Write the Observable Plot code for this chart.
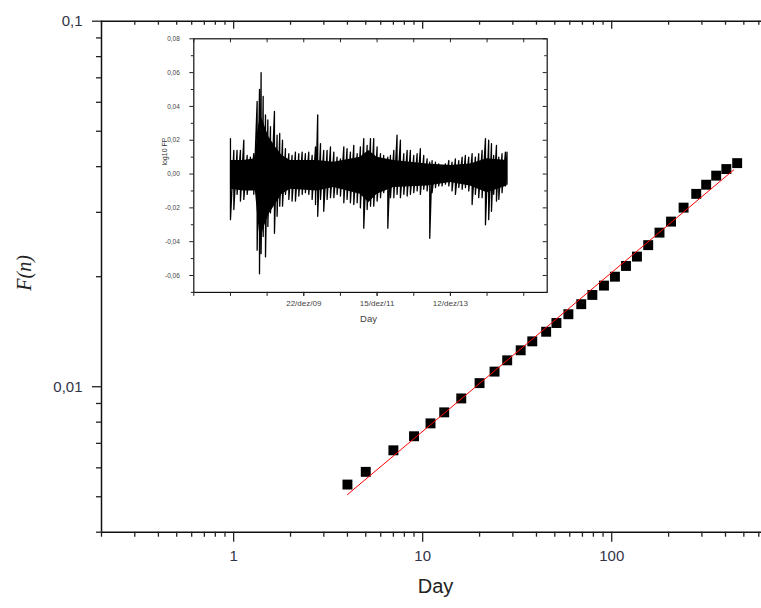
<!DOCTYPE html>
<html>
<head>
<meta charset="utf-8">
<script src="https://cdn.jsdelivr.net/npm/d3@7"></script>
<script src="https://cdn.jsdelivr.net/npm/@observablehq/plot@0.6"></script>
<style>
  html, body { margin: 0; padding: 0; background: #fff; }
  #wrap { position: relative; width: 761px; height: 608px; }
  #wrap svg { position: absolute; left: 0; top: 0; }
</style>
</head>
<body>
<div id="wrap"></div>
<script>
// ---- main panel: fluctuation function F(n) vs window size (days) ----
const fnDays = [4, 5, 7, 9, 11, 13, 16, 20, 24, 28, 33, 38, 45, 51, 59, 69, 79, 91, 104, 119, 136, 156, 179, 206, 240, 280, 316, 357, 404, 461];
const fnValues = [0.0054, 0.00585, 0.0067, 0.00732, 0.00794, 0.00851, 0.00929, 0.01023, 0.0110, 0.01181, 0.01258, 0.01331, 0.01414, 0.01494, 0.01579, 0.01682, 0.01783, 0.01891, 0.0200, 0.0214, 0.0227, 0.0244, 0.0264, 0.0283, 0.0309, 0.0337, 0.0357, 0.0378, 0.0394, 0.0409];
const fitDays = [4, 442];
const fitValues = [0.00507, 0.0392];

const xMajorTicks = [1, 10, 100];
const xMajorLabels = ["1", "10", "100"];
const xMinorTicks = [0.2, 0.3, 0.4, 0.5, 0.6, 0.7, 0.8, 0.9, 2, 3, 4, 5, 6, 7, 8, 9, 20, 30, 40, 50, 60, 70, 80, 90, 200, 300, 400, 500, 600];
const yMajorTicks = [0.01, 0.1];
const yMajorLabels = ["0,01", "0,1"];
const yMinorTicks = [0.004, 0.005, 0.006, 0.007, 0.008, 0.009, 0.02, 0.03, 0.04, 0.05, 0.06, 0.07, 0.08, 0.09];

// ---- inset: daily log10 FP returns (spike envelope read per ~3px column) ----
const insetDay = [250, 273, 295, 318, 341, 364, 386, 409, 432, 448, 459, 473, 489, 505, 523, 550, 568, 586, 605, 625, 648, 670, 693, 716, 739, 761, 784, 807, 830, 845, 864, 886, 909, 932, 955, 977, 1000, 1023, 1045, 1068, 1091, 1114, 1136, 1159, 1182, 1205, 1227, 1250, 1273, 1295, 1323, 1341, 1364, 1386, 1409, 1432, 1455, 1477, 1500, 1523, 1545, 1568, 1591, 1609, 1625, 1648, 1670, 1693, 1716, 1739, 1761, 1784, 1807, 1830, 1852, 1875, 1898, 1920, 1943, 1966, 1989, 2011, 2030, 2045, 2064, 2080, 2102, 2125, 2136];
const insetHigh = [0.021, 0.014, 0.014, 0.014, 0.020, 0.011, 0.010, 0.012, 0.043, 0.050, 0.060, 0.046, 0.035, 0.032, 0.028, 0.037, 0.023, 0.024, 0.020, 0.015, 0.012, 0.011, 0.013, 0.012, 0.013, 0.012, 0.013, 0.011, 0.016, 0.035, 0.018, 0.014, 0.014, 0.016, 0.013, 0.010, 0.009, 0.016, 0.015, 0.013, 0.017, 0.012, 0.016, 0.021, 0.017, 0.021, 0.021, 0.016, 0.012, 0.011, 0.010, 0.011, 0.014, 0.023, 0.020, 0.012, 0.014, 0.014, 0.011, 0.012, 0.015, 0.011, 0.009, 0.007, 0.008, 0.007, 0.006, 0.005, 0.006, 0.008, 0.007, 0.009, 0.008, 0.010, 0.011, 0.010, 0.012, 0.010, 0.012, 0.014, 0.021, 0.020, 0.018, 0.011, 0.017, 0.010, 0.012, 0.013, 0.013];
const insetLow = [-0.027, -0.021, -0.012, -0.016, -0.015, -0.012, -0.009, -0.012, -0.045, -0.059, -0.047, -0.037, -0.049, -0.031, -0.023, -0.035, -0.025, -0.019, -0.019, -0.012, -0.015, -0.016, -0.016, -0.013, -0.012, -0.011, -0.012, -0.015, -0.018, -0.025, -0.015, -0.022, -0.015, -0.014, -0.014, -0.012, -0.013, -0.017, -0.015, -0.017, -0.018, -0.017, -0.020, -0.032, -0.021, -0.019, -0.019, -0.016, -0.014, -0.011, -0.032, -0.014, -0.014, -0.012, -0.014, -0.012, -0.013, -0.012, -0.011, -0.010, -0.012, -0.009, -0.010, -0.038, -0.011, -0.008, -0.007, -0.007, -0.006, -0.007, -0.010, -0.012, -0.008, -0.009, -0.008, -0.010, -0.018, -0.012, -0.014, -0.014, -0.030, -0.027, -0.022, -0.012, -0.016, -0.015, -0.011, -0.007, -0.006];
// dense (solid black) core of the return series
const coreDay = [250, 341, 420, 436, 455, 477, 511, 557, 602, 659, 841, 955, 1136, 1193, 1250, 1364, 1591, 1750, 1886, 2000, 2136];
const coreHigh = [0.008, 0.008, 0.009, 0.025, 0.035, 0.030, 0.022, 0.016, 0.011, 0.008, 0.008, 0.007, 0.010, 0.014, 0.010, 0.008, 0.006, 0.005, 0.006, 0.009, 0.008];
const coreLow = [-0.009, -0.010, -0.010, -0.025, -0.040, -0.032, -0.024, -0.018, -0.012, -0.009, -0.010, -0.008, -0.012, -0.017, -0.012, -0.008, -0.007, -0.005, -0.007, -0.011, -0.007];

const insetXTicks = [0, 250, 500, 750, 1000, 1250, 1500, 1750, 2000, 2250];
const insetDateTicks = [750, 1250, 1750];
const insetDateLabels = ["22/dez/09", "15/dez/11", "12/dez/13"];
const insetYMajor = [-0.06, -0.04, -0.02, 0, 0.02, 0.04, 0.06, 0.08];
const insetYLabels = ["-0,06", "-0,04", "-0,02", "0,00", "0,02", "0,04", "0,06", "0,08"];
const insetYMinor = [-0.07, -0.05, -0.03, -0.01, 0.01, 0.03, 0.05, 0.07];

// ---- build tables ----
const points = fnDays.map((d, i) => ({n: d, F: fnValues[i]}));
const fit = fitDays.map((d, i) => ({n: d, F: fitValues[i]}));
const zig = [];
insetDay.forEach((t, i) => { zig.push({t, v: insetHigh[i]}); zig.push({t, v: insetLow[i]}); });
const core = coreDay.map((t, i) => ({t, hi: coreHigh[i], lo: coreLow[i]}));

const font = "'Liberation Sans', Arial, sans-serif";
const blank = () => "";

const main = Plot.plot({
  width: 761, height: 608,
  marginLeft: 101, marginRight: 0, marginTop: 20.7, marginBottom: 76.3,
  x: {type: "log", domain: [0.2, 620]},
  y: {type: "log", domain: [0.004, 0.1]},
  style: {fontFamily: font, background: "white", color: "#222", overflow: "visible"},
  marks: [
    Plot.ruleX([0.2], {stroke: "#111", strokeWidth: 1.5}),
    Plot.ruleY([0.004], {stroke: "#111", strokeWidth: 1.5}),
    Plot.ruleY([0.1], {stroke: "#111", strokeWidth: 1.5}),
    Plot.axisY({ticks: yMajorTicks, tickSize: 9, tickPadding: 10, strokeWidth: 1.3, fontSize: 15, fill: "#333348",
      tickFormat: d => yMajorLabels[yMajorTicks.indexOf(d)], label: null}),
    Plot.axisY({ticks: yMinorTicks, tickSize: 5, strokeWidth: 1.3, tickFormat: blank, label: null}),
    Plot.axisX({ticks: xMajorTicks, tickSize: 10, tickPadding: 8, strokeWidth: 1.3, fontSize: 15, fill: "#333348",
      tickFormat: d => xMajorLabels[xMajorTicks.indexOf(d)], label: null}),
    Plot.axisX({ticks: xMinorTicks, tickSize: 5, strokeWidth: 1.3, tickFormat: blank, label: null}),
    Plot.axisX({anchor: "bottom", frameAnchor: "top", ticks: xMajorTicks, tickSize: 8, strokeWidth: 1.3, tickFormat: blank, label: null}),
    Plot.axisX({anchor: "bottom", frameAnchor: "top", ticks: xMinorTicks, tickSize: 4, strokeWidth: 1.3, tickFormat: blank, label: null}),
    Plot.dot(points, {x: "n", y: "F", symbol: "square", r: 5.6, fill: "black", stroke: "none"}),
    Plot.line(fit, {x: "n", y: "F", stroke: "#ff0000", strokeWidth: 1}),
    Plot.text(["F(n)"], {frameAnchor: "left", dx: -77, dy: 14, rotate: -90, fontSize: 20, fontStyle: "italic", fontFamily: "'Liberation Serif', 'DejaVu Serif', serif", fill: "#222"}),
    Plot.text(["Day"], {frameAnchor: "bottom", dx: 4, dy: 61, fontSize: 20, fill: "#222"})
  ]
});

const inset = Plot.plot({
  width: 761, height: 608,
  marginLeft: 193.3, marginRight: 214.3, marginTop: 38.3, marginBottom: 316.1,
  x: {domain: [0, 2410]},
  y: {domain: [-0.07, 0.08]},
  style: {fontFamily: font, background: "transparent", color: "#222", overflow: "visible"},
  marks: [
    Plot.frame({stroke: "#111", strokeWidth: 1.2}),
    Plot.areaY(core, {x: "t", y1: "lo", y2: "hi", fill: "black"}),
    Plot.line(zig, {x: "t", y: "v", stroke: "black", strokeWidth: 1.3}),
    Plot.axisY({ticks: insetYMajor, tickSize: 4, tickPadding: 10, fontSize: 6.5, fill: "#444",
      tickFormat: d => insetYLabels[insetYMajor.indexOf(d)], label: null}),
    Plot.axisY({ticks: insetYMinor, tickSize: 2.5, tickFormat: blank, label: null}),
    Plot.axisY({anchor: "left", frameAnchor: "right", ticks: insetYMajor, tickSize: 4, tickFormat: blank, label: null}),
    Plot.axisY({anchor: "left", frameAnchor: "right", ticks: insetYMinor, tickSize: 2.5, tickFormat: blank, label: null}),
    Plot.axisX({ticks: insetXTicks, tickSize: 4, tickFormat: blank, label: null}),
    Plot.axisX({ticks: insetDateTicks, tickSize: 4, tickPadding: 4, fontSize: 8, fill: "#444",
      tickFormat: d => insetDateLabels[insetDateTicks.indexOf(d)], label: null}),
    Plot.axisX({anchor: "bottom", frameAnchor: "top", ticks: insetXTicks, tickSize: 4, tickFormat: blank, label: null}),
    Plot.text(["Day"], {frameAnchor: "bottom", dx: -2, dy: 30, fontSize: 9.5, fill: "#444"}),
    Plot.text(["log10 FP"], {frameAnchor: "left", dx: -29, rotate: -90, fontSize: 7, fill: "#333"})
  ]
});

const wrap = document.getElementById("wrap");
wrap.appendChild(main);
wrap.appendChild(inset);
// drop empty tick-label text nodes produced by tick-only axes
for (const t of wrap.querySelectorAll("text")) {
  if (!t.textContent.trim()) t.remove();
}
</script>
</body>
</html>
